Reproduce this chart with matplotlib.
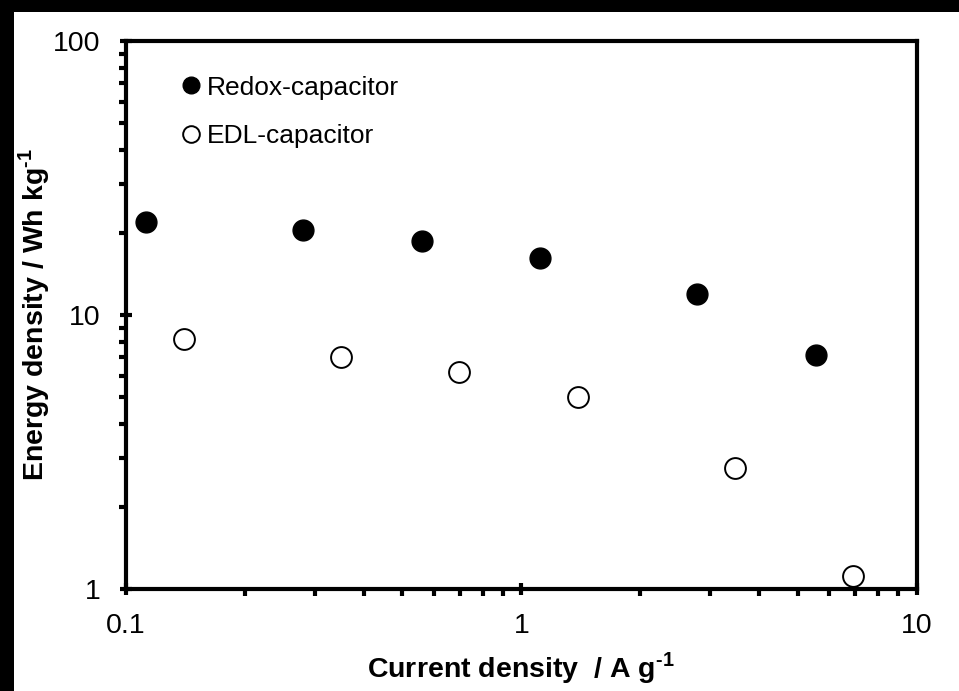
import matplotlib
matplotlib.use('Agg')
import matplotlib.pyplot as plt
from matplotlib.patches import Rectangle
from matplotlib.ticker import LogLocator, FixedLocator, NullFormatter, FuncFormatter

plt.rcParams['font.family'] = ['Liberation Sans', 'DejaVu Sans']
plt.rcParams['mathtext.fontset'] = 'custom'
plt.rcParams['mathtext.rm'] = 'Liberation Sans'
plt.rcParams['mathtext.bf'] = 'Liberation Sans:bold'

# current density (A/g) and energy density (Wh/kg)
redox_current = [0.1124, 0.2804, 0.561, 1.115, 2.784, 5.568]
redox_energy = [21.85, 20.43, 18.62, 16.15, 11.93, 7.145]
edl_current = [0.1402, 0.3499, 0.696, 1.392, 3.475, 6.909]
edl_energy = [8.17, 7.03, 6.19, 5.02, 2.765, 1.115]

fig = plt.figure(figsize=(9.59, 6.91), dpi=100)
ax = fig.add_axes([126 / 959, 1 - 589 / 691, (916.5 - 126) / 959, (589 - 41) / 691])

# black border along top and left edge
fig.patches.append(Rectangle((0, 1 - 12 / 691), 1, 12 / 691, transform=fig.transFigure,
                             facecolor='black', edgecolor='none', zorder=10))
fig.patches.append(Rectangle((0, 0), 14 / 959, 1, transform=fig.transFigure,
                             facecolor='black', edgecolor='none', zorder=10))

ax.plot(redox_current, redox_energy, 'o', color='black', markersize=15,
        linestyle='none', label='Redox-capacitor', clip_on=False, zorder=3)
ax.plot(edl_current, edl_energy, 'o', markerfacecolor='white', markeredgecolor='black',
        markeredgewidth=1.4, markersize=15, linestyle='none', label='EDL-capacitor',
        clip_on=False, zorder=3)

ax.set_xscale('log')
ax.set_yscale('log')
ax.set_xlim(0.1, 10)
ax.set_ylim(1, 100)

ax.xaxis.set_major_locator(FixedLocator([0.1, 1, 10]))
ax.yaxis.set_major_locator(FixedLocator([1, 10, 100]))
ax.xaxis.set_minor_locator(LogLocator(base=10, subs=range(2, 10)))
ax.yaxis.set_minor_locator(LogLocator(base=10, subs=range(2, 10)))
ax.xaxis.set_minor_formatter(NullFormatter())
ax.yaxis.set_minor_formatter(NullFormatter())
ax.xaxis.set_major_formatter(FuncFormatter(lambda v, p: '%g' % v))
ax.yaxis.set_major_formatter(FuncFormatter(lambda v, p: '%g' % v))

for s in ax.spines.values():
    s.set_linewidth(3)
ax.tick_params(which='major', direction='inout', length=9, width=3, labelsize=20.5)
ax.tick_params(axis='y', which='major', pad=14)
ax.tick_params(axis='x', which='major', pad=13)
ax.tick_params(which='minor', direction='out', length=5, width=3)

# hyphen (not minus) in the superscripts, as in the original
ax.set_xlabel('Current density  / A g$^{\\mathbf{\u2010 1}}$', fontsize=20.5, fontweight='bold')
ax.set_ylabel('Energy density / Wh kg$^{\\mathbf{\u2010 1}}$', fontsize=20.5, fontweight='bold')
ax.xaxis.set_label_coords(0.5, -0.112)
ax.yaxis.set_label_coords(-0.094, 0.5)

ax.legend(loc='upper left', bbox_to_anchor=(0.035, 0.98), frameon=False, fontsize=19,
          markerscale=0.8, handletextpad=0.1, handlelength=1.0, labelspacing=0.93)

fig.savefig('out.png', dpi=100, facecolor='white')
